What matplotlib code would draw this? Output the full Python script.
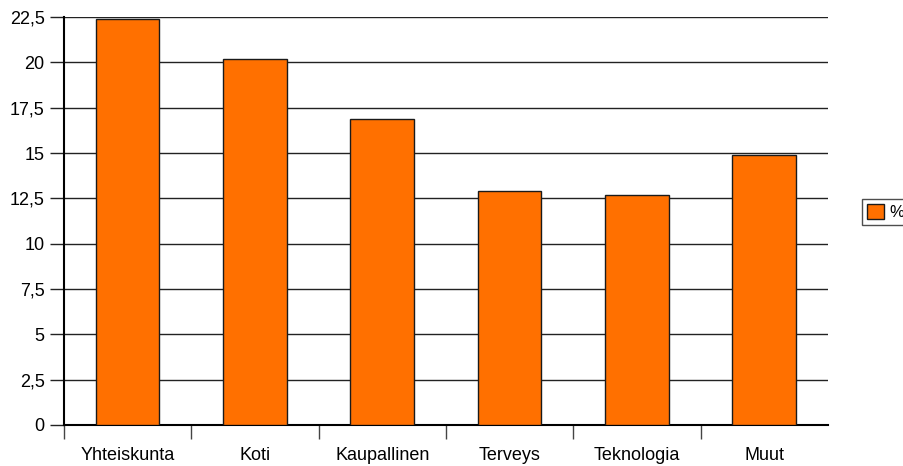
import matplotlib
matplotlib.use("Agg")
import matplotlib.pyplot as plt
from matplotlib.patches import Patch
from matplotlib.ticker import FuncFormatter, MultipleLocator, FixedLocator
import numpy as np

categories = ["Yhteiskunta", "Koti", "Kaupallinen", "Terveys", "Teknologia", "Muut"]
values = [22.4, 20.2, 16.9, 12.9, 12.7, 14.9]
series_name = "%"

plt.rcParams["font.family"] = ["Liberation Sans", "DejaVu Sans"]
plt.rcParams["font.size"] = 13

fig = plt.figure(figsize=(9.04, 4.66), dpi=100)
ax = fig.add_axes([0.0708, 0.088, 0.8451, 0.8755])

x = np.arange(len(categories))
ax.bar(x, values, width=0.5, color="#FF7000", edgecolor="#1a1a1a", linewidth=1.0, zorder=3)

ax.set_xlim(-0.5, len(categories) - 0.5)
ax.set_ylim(0, 22.5)

# vaakasuorat apuviivat 2,5 välein
ax.yaxis.set_major_locator(MultipleLocator(2.5))
ax.yaxis.set_major_formatter(FuncFormatter(lambda v, _: f"{v:g}".replace(".", ",")))
ax.grid(axis="y", color="#222222", linewidth=1.0, zorder=1)
ax.set_axisbelow(True)

# luokkien rajat x-akselilla (ei viimeistä rajaa oikeassa reunassa)
ax.xaxis.set_major_locator(FixedLocator(np.arange(len(categories)) - 0.5))
ax.xaxis.set_major_formatter(FuncFormatter(lambda v, _: ""))
ax.xaxis.set_minor_locator(FixedLocator(x))
ax.set_xticklabels(categories, minor=True)
ax.tick_params(axis="x", which="major", length=10, width=1.0, color="#444444", direction="out")
ax.tick_params(axis="x", which="minor", length=0, pad=16)
ax.tick_params(axis="y", length=10, width=1.0, color="#222222", pad=4)

for side in ("top", "right"):
    ax.spines[side].set_visible(False)
ax.spines["left"].set_linewidth(1.5)
ax.spines["bottom"].set_linewidth(1.5)

fig.legend(
    handles=[Patch(facecolor="#FF7000", edgecolor="#1a1a1a", linewidth=1.0)],
    labels=[series_name],
    loc="center left",
    bbox_to_anchor=(0.954, 0.545),
    frameon=True,
    fancybox=False,
    edgecolor="#222222",
    fontsize=12,
    handlelength=1.0,
    handleheight=1.0,
    handletextpad=0.3,
    borderpad=0.3,
    borderaxespad=0,
)

fig.savefig("out.png", dpi=100)
